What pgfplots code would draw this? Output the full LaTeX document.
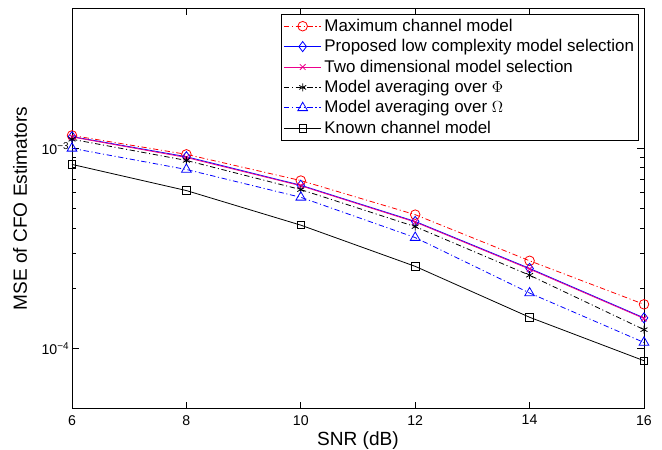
\documentclass[border=0pt]{standalone}
\usepackage{fontspec}
\setmainfont{Liberation Sans}
\usepackage{pgfplots}
\pgfplotsset{compat=1.18}

\begin{document}
\begin{tikzpicture}
\useasboundingbox (-54pt,-30.75pt) rectangle (442.5pt,306.4pt);
\begin{axis}[
    ymode=log,
    scale only axis,
    width=429pt, height=300pt,
    xmin=6, xmax=16, ymin=5e-5, ymax=5e-3,
    xtick={6,8,...,16},
    ytick={1e-4,1e-3},
    yticklabels={10\textsuperscript{−4},10\textsuperscript{−3}},
    /pgf/number format/assume math mode=true,
    tick align=inside,
    major tick length=5pt, minor tick length=3pt,
    axis line style={line width=0.6pt},
    every tick/.style={black, line width=0.5pt},
    tick label style={font=\fontsize{10.6}{12}\selectfont},
    xticklabel style={yshift=-1.5pt},
    yticklabel style={xshift=1.5pt},
    label style={font=\fontsize{14.3}{16}\selectfont},
    xlabel={SNR (dB)},
    ylabel={MSE of CFO Estimators},
    xlabel style={at={(axis description cs:0.5,-0.08)}, anchor=center},
    ylabel style={at={(axis description cs:-0.091,0.5)}, anchor=center},
    legend style={at={(rel axis cs:1,1)}, anchor=north east, xshift=-3.75pt, yshift=-4.2pt,
        draw=black, fill=white, font=\fontsize{12.7}{14}\selectfont, row sep=0.6pt,
        inner sep=1.5pt},
    legend cell align=left,
    legend image code/.code={\draw[mark repeat=2,mark phase=2] plot coordinates {(0pt,0pt)(14pt,0pt)(28pt,0pt)};},
    every axis plot/.append style={line width=0.6pt},
]
\addplot[color=red, mark=o, mark size=3.6pt, dash pattern=on 4pt off 2pt on 0.8pt off 2pt, mark options={solid}] coordinates {
    (6,1.16e-3) (8,9.33e-4) (10,6.9e-4) (12,4.66e-4) (14,2.74e-4) (16,1.66e-4)
};
\addlegendentry{Maximum channel model}
\addplot[color=blue, mark=diamond, mark size=3.8pt] coordinates {
    (6,1.145e-3) (8,9.08e-4) (10,6.54e-4) (12,4.31e-4) (14,2.51e-4) (16,1.42e-4)
};
\addlegendentry{Proposed low complexity model selection}
\addplot[color=magenta, mark=x, mark size=3pt] coordinates {
    (6,1.14e-3) (8,9.0e-4) (10,6.5e-4) (12,4.28e-4) (14,2.49e-4) (16,1.41e-4)
};
\addlegendentry{Two dimensional model selection}
\addplot[color=black, mark=asterisk, mark size=3pt, dash pattern=on 4pt off 2pt on 0.8pt off 2pt, mark options={solid}] coordinates {
    (6,1.11e-3) (8,8.7e-4) (10,6.22e-4) (12,4.06e-4) (14,2.32e-4) (16,1.24e-4)
};
\addlegendentry{Model averaging over $\Phi$}
\addplot[color=blue, mark=triangle, mark size=4.2pt, dash pattern=on 4pt off 2pt on 0.8pt off 2pt, mark options={solid}] coordinates {
    (6,1.0e-3) (8,7.84e-4) (10,5.69e-4) (12,3.58e-4) (14,1.89e-4) (16,1.07e-4)
};
\addlegendentry{Model averaging over $\Omega$}
\addplot[color=black, mark=square, mark size=2.8pt] coordinates {
    (6,8.31e-4) (8,6.15e-4) (10,4.13e-4) (12,2.57e-4) (14,1.43e-4) (16,8.67e-5)
};
\addlegendentry{Known channel model}
\end{axis}
\end{tikzpicture}
\end{document}
